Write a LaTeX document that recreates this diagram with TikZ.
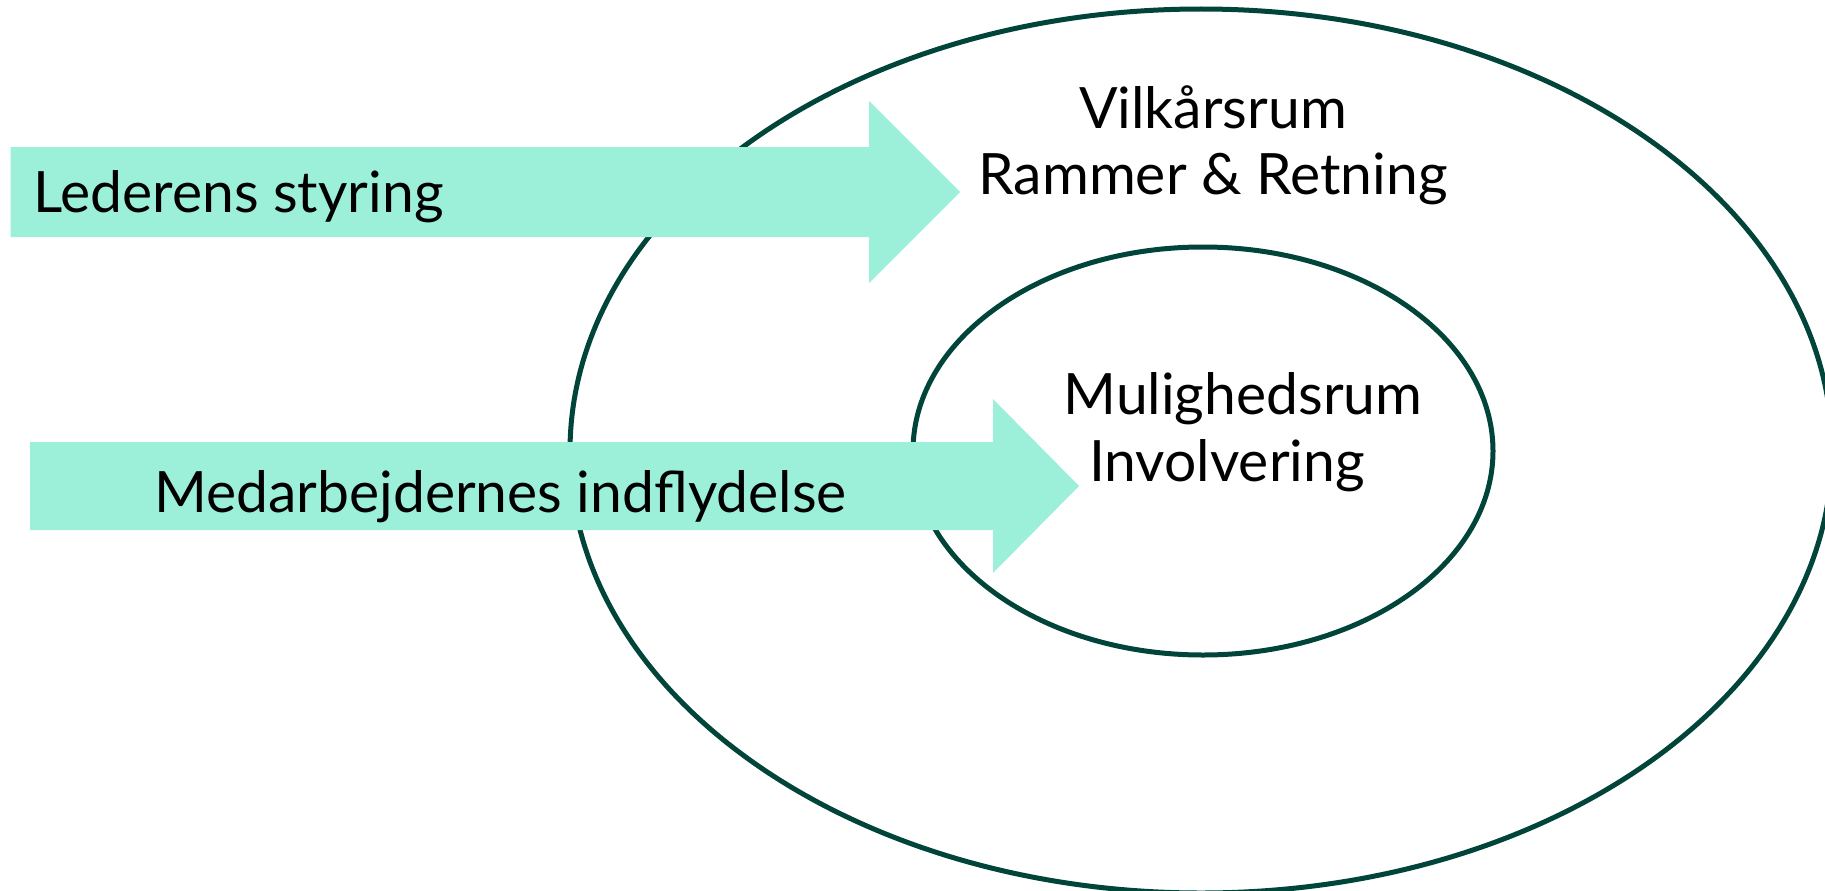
\documentclass[tikz,border=0pt]{standalone}
\usepackage{fontspec}
\setmainfont{Lato}
\usepackage{tikz}
\usetikzlibrary{shapes.geometric,positioning}
\definecolor{mint}{RGB}{156,239,216}
\definecolor{darkteal}{RGB}{0,68,58}

\begin{document}
\begin{tikzpicture}[x=1pt,y=-1pt,node distance=66pt,on grid,
    rum/.style={ellipse,draw=darkteal,line width=5pt,inner sep=0pt},
    pil/.style={fill=mint},
    tekst/.style={font=\fontsize{57}{66}\selectfont,inner sep=0pt,text height=44pt,text depth=12pt}]
   \useasboundingbox (0,0) rectangle (1825,891);
   % the two rooms
   \node[rum,minimum width=1262pt,minimum height=884pt] (V) at (1201,451) {};
   \node[rum,minimum width=580pt,minimum height=408pt] (M) at (1203,451) {};
   % arrows
   \fill[pil] (10.5,147) -- (869,147) -- (869,101) -- (960,192)
      -- (869,283) -- (869,237) -- (10.5,237) -- cycle;
   \fill[pil] (30,442) -- (993,442) -- (993,399) -- (1079,486)
      -- (993,573) -- (993,530) -- (30,530) -- cycle;
   \node[tekst,anchor=base west] (L) at (33,212) {Lederens styring};
   \node[tekst,anchor=base west] (Med) at (154,512) {Medarbejdernes indflydelse};
   % labels
   \node[tekst] (V1) at (1213,112) {Vilkårsrum};
   \node[tekst] (V2) [below=of V1] {Rammer \& Retning};
   \node[tekst] (M1) at (1243,398) {Mulighedsrum};
   \node[tekst] (M2) [below=67pt of M1,xshift=-16pt] {Involvering};
\end{tikzpicture}
\end{document}
